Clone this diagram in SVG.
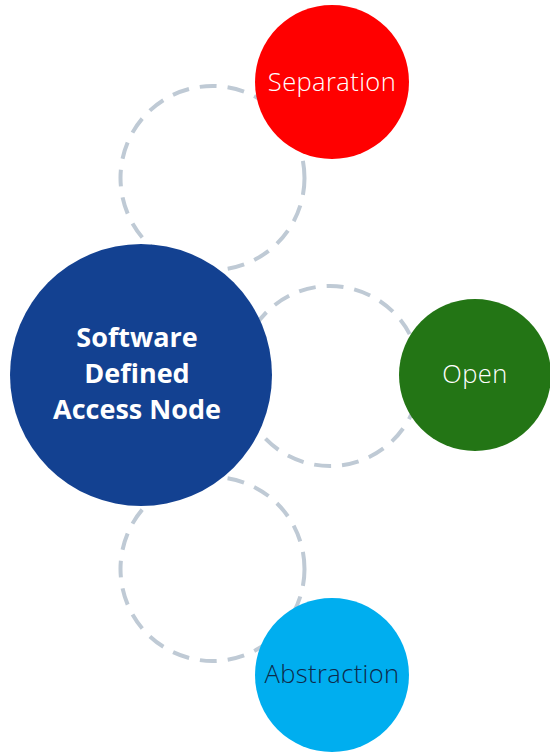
<svg xmlns="http://www.w3.org/2000/svg" width="550" height="753" viewBox="0 0 550 753">
  <style>
    .ring { fill: none; stroke: #bfcad5; stroke-width: 4; stroke-dasharray: 17 11; }
    .lbl { font-family: "Open Sans", "Noto Sans", sans-serif; font-size: 25.5px; font-weight: 300; letter-spacing: 0.4px; text-anchor: middle; }
    .hub { font-family: "Open Sans", "Noto Sans", sans-serif; font-size: 27px; font-weight: 700; fill: #ffffff; text-anchor: middle; }
  </style>
  <rect width="550" height="753" fill="#ffffff"/>
  <!-- dashed orbit rings linking the hub to each satellite -->
  <g id="connectors">
    <circle class="ring" cx="212.5" cy="178" r="92"/>
    <circle class="ring" cx="330" cy="376" r="90"/>
    <circle class="ring" cx="212.5" cy="569" r="92"/>
  </g>
  <g id="hub">
    <circle cx="141" cy="375" r="131" fill="#134191"/>
    <text class="hub" x="137" y="347">Software</text>
    <text class="hub" x="137" y="383">Defined</text>
    <text class="hub" x="137" y="419">Access Node</text>
  </g>
  <g id="separation">
    <circle cx="332" cy="82" r="77" fill="#ff0000"/>
    <text class="lbl" x="332" y="91" fill="#ffffff">Separation</text>
  </g>
  <g id="open">
    <circle cx="475" cy="375" r="76" fill="#237515"/>
    <text class="lbl" x="475" y="383" fill="#ffffff">Open</text>
  </g>
  <g id="abstraction">
    <circle cx="332" cy="675" r="77" fill="#00aeef"/>
    <text class="lbl" x="332" y="683" fill="#0e2a4a">Abstraction</text>
  </g>
</svg>
